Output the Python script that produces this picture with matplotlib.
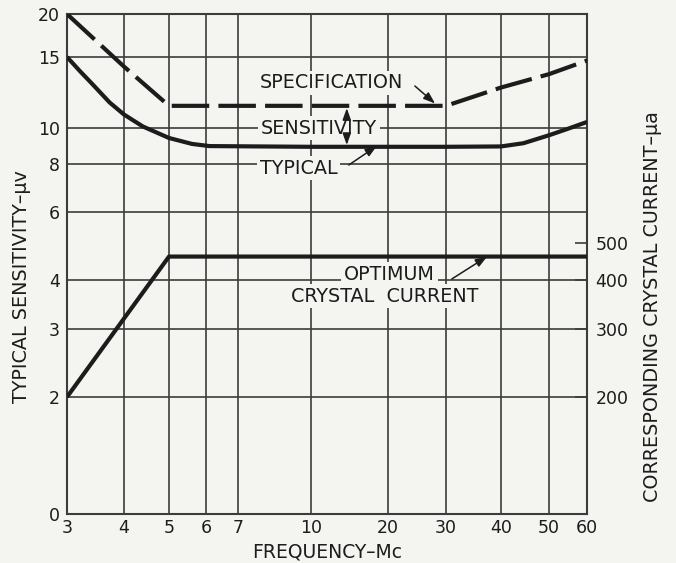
import numpy as np
import matplotlib
matplotlib.use("Agg")
import matplotlib.pyplot as plt

# ---------------- data ----------------
freq_ticks = [3, 4, 5, 6, 7, 10, 20, 30, 40, 50, 60]
sens_ticks = [0, 2, 3, 4, 6, 8, 10, 15, 20]
current_ticks = [200, 300, 400, 500]

spec_freq = [3, 4, 5, 30, 40, 50, 60]
spec_sens = [20, 14.2, 11.35, 11.35, 12.6, 13.6, 14.7]

typ_freq = [3, 3.2, 3.41, 3.72, 4, 4.39, 5, 5.6, 6.1, 10, 20, 30, 40, 44.4, 50, 54.6, 60]
typ_sens = [15, 13.85, 12.85, 11.57, 10.8, 10.09, 9.4, 9.06, 8.94, 8.9, 8.9, 8.9, 8.92, 9.1, 9.56, 9.94, 10.35]

opt_freq = [3, 5, 60]
opt_current = [200, 460, 460]

# ------------- layout (scale calibration of the printed grid) -------------
W, H = 676, 563
ax_left, ax_right, ax_top, ax_bottom = 67, 587, 14, 514
x_grid_pix = [67, 124, 169, 206, 238, 311, 388, 446, 501, 549, 587]
y_anchor_vals = [1, 2, 3, 4, 6, 8, 10, 15, 20]       # bottom line labelled "0"
y_grid_pix = [514, 397, 329, 280, 212, 164, 128, 57, 14]

lx = np.log10(freq_ticks)
ly = np.log10(y_anchor_vals)
yp = -np.array(y_grid_pix, dtype=float)


def xf(v):
    v = np.clip(np.asarray(v, dtype=float), 1e-9, None)
    return np.interp(np.log10(v), lx, x_grid_pix)


def xi(p):
    return 10 ** np.interp(np.asarray(p, dtype=float), x_grid_pix, lx)


def yf(v):
    v = np.clip(np.asarray(v, dtype=float), 1.0, None)
    return np.interp(np.log10(v), ly, yp)


def yi(p):
    return 10 ** np.interp(np.asarray(p, dtype=float), yp, ly)


def cf(c):
    return yf(np.asarray(c, dtype=float) / 100.0)


def ci(p):
    return yi(p) * 100.0


bg = "#f4f4f1"
ink = "#1c1c1c"
grid_c = "#3c3c3c"
plt.rcParams["font.family"] = ["DejaVu Sans"]

fig = plt.figure(figsize=(W / 100, H / 100), dpi=100, facecolor=bg)
ax = fig.add_axes([ax_left / W, 1 - ax_bottom / H,
                   (ax_right - ax_left) / W, (ax_bottom - ax_top) / H])
ax.set_facecolor(bg)
ax.set_xscale("function", functions=(xf, xi))
ax.set_yscale("function", functions=(yf, yi))
ax.set_xlim(3, 60)
ax.set_ylim(0, 20)
ax.set_xticks(freq_ticks)
ax.set_xticklabels([str(t) for t in freq_ticks])
ax.set_yticks(sens_ticks)
ax.set_yticklabels([str(t) for t in sens_ticks])
ax.minorticks_off()
ax.set_axisbelow(True)
ax.grid(True, color=grid_c, linewidth=1.2)
tick_fs = 12.5
ax.tick_params(axis="x", length=0, pad=3.5, labelsize=tick_fs, colors=ink)
ax.tick_params(axis="y", length=0, pad=5, labelsize=tick_fs, colors=ink)
for s in ax.spines.values():
    s.set_color(grid_c)
    s.set_linewidth(1.5)

# curves
ax.plot(spec_freq, spec_sens, color=ink, lw=3.0, dashes=(9, 2.2),
        dash_capstyle="butt", zorder=4)
ax.plot(typ_freq, typ_sens, color=ink, lw=3.0, solid_capstyle="butt",
        solid_joinstyle="round", zorder=4)

# secondary (crystal current) axis
ax2 = ax.twinx()
ax2.set_yscale("function", functions=(cf, ci))
ax2.set_ylim(0, 2000)
ax2.set_yticks(current_ticks)
ax2.set_yticklabels([str(t) for t in current_ticks])
ax2.minorticks_off()
ax2.tick_params(axis="y", direction="in", length=8.5, width=1.2, pad=6,
                labelsize=tick_fs, colors=ink, color=grid_c)
for s in ax2.spines.values():
    s.set_visible(False)
ax2.plot(opt_freq, opt_current, color=ink, lw=3.0, solid_capstyle="butt", zorder=4)

# labels with masking boxes
box = dict(boxstyle="square,pad=0.15", fc=bg, ec="none")
lab_fs = 13.8
ax.text(0.5087, 0.862, "SPECIFICATION", transform=ax.transAxes, ha="center",
        va="center", fontsize=lab_fs, color=ink, bbox=box, zorder=3)
ax.text(0.4846, 0.772, "SENSITIVITY", transform=ax.transAxes, ha="center",
        va="center", fontsize=lab_fs, color=ink, bbox=box, zorder=3)
ax.text(0.445, 0.692, "TYPICAL", transform=ax.transAxes, ha="center",
        va="center", fontsize=lab_fs, color=ink, bbox=box, zorder=3)
ax.text(0.620, 0.480, "OPTIMUM", transform=ax.transAxes, ha="center",
        va="center", fontsize=lab_fs, color=ink, bbox=box, zorder=3)
ax.text(0.6115, 0.436, "CRYSTAL  CURRENT", transform=ax.transAxes, ha="center",
        va="center", fontsize=lab_fs, color=ink, bbox=box, zorder=3)

arrow = dict(arrowstyle="-|>,head_length=0.7,head_width=0.25", color=ink, lw=1.1,
             shrinkA=0, shrinkB=0, mutation_scale=10)
ax.annotate("", xy=(27.8, 11.5), xytext=(0.669, 0.856), textcoords="axes fraction",
            arrowprops=arrow, zorder=5)
ax.annotate("", xy=(18.1, 8.95), xytext=(0.542, 0.698), textcoords="axes fraction",
            arrowprops=arrow, zorder=5)
ax.annotate("", xy=(37.2, 4.6), xytext=(0.740, 0.470), textcoords="axes fraction",
            arrowprops=arrow, zorder=5)
# double arrow between specification and typical
ax.annotate("", xy=(13.8, 11.2), xytext=(13.8, 10.75), arrowprops=arrow, zorder=5)
ax.annotate("", xy=(13.8, 9.0), xytext=(13.8, 9.35), arrowprops=arrow, zorder=5)

# axis titles
title_fs = 13.8
fig.text(22 / W, 1 - 287 / H, "TYPICAL SENSITIVITY–μv", rotation=90, ha="center",
         va="center", fontsize=title_fs, color=ink)
fig.text(652 / W, 1 - 307 / H, "CORRESPONDING CRYSTAL CURRENT–μa", rotation=90,
         ha="center", va="center", fontsize=title_fs, color=ink)
fig.text(327 / W, 1 - 552 / H, "FREQUENCY–Mc", ha="center", va="center",
         fontsize=13.5, color=ink)

fig.savefig("out.png", dpi=100, facecolor=bg)
